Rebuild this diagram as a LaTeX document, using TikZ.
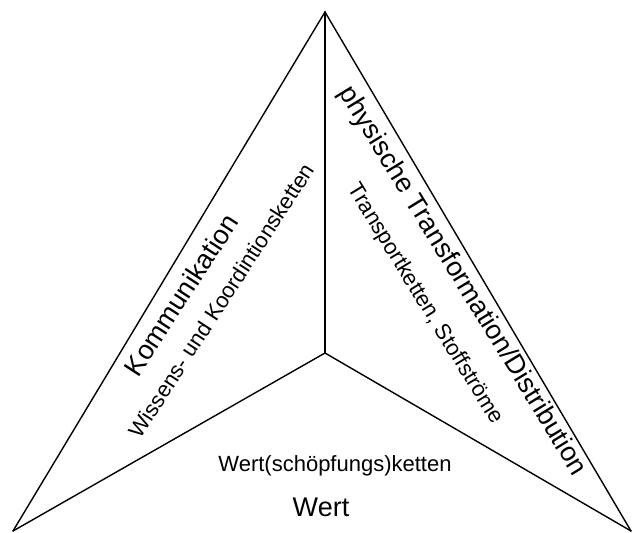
\documentclass[tikz,border=0pt]{standalone}
\usepackage{fontspec}
\setmainfont{Liberation Sans}
\begin{document}
\begin{tikzpicture}[x=1pt,y=-1pt,
  edge/.style={line width=1.4pt, line cap=round, line join=miter},
  big/.style={font=\fontsize{27}{32}\selectfont, inner sep=0pt, anchor=base},
  small/.style={font=\fontsize{22}{26}\selectfont, inner sep=0pt, anchor=base}]
\useasboundingbox (0,0) rectangle (633,533);
\coordinate (A) at (325,12);
\coordinate (L) at (13,531);
\coordinate (R) at (631,531);
\coordinate (C) at (325,353);
\draw[edge] (L) -- (A) -- (R);
\draw[edge] (A) -- (C);
\draw[edge] (L) -- (C) -- (R);
\node[big, rotate=57] (komm) at (189,300) {Kommunikation};
\node[small, rotate=57] (wiss) at (228,305) {Wissens- und Koordintionsketten};
\node[big, rotate=-58.5] (phys) at (456,285) {physische Transformation/Distribution};
\node[small, rotate=-58.5] (trans) at (420,307) {Transportketten, Stoffströme};
\node[small] (wsk) at (335,471) {Wert(schöpfungs)ketten};
\node[big] (wert) at (321,516) {Wert};
\end{tikzpicture}
\end{document}
